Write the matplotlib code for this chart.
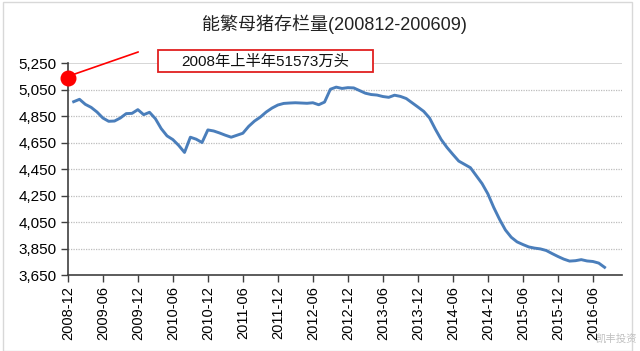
import matplotlib
matplotlib.use('Agg')
from matplotlib import pyplot as plt
from matplotlib.patches import Rectangle

plt.rcParams['font.family'] = ['Liberation Sans', 'Noto Sans CJK SC', 'DejaVu Sans']
plt.rcParams['font.size'] = 10

# monthly sow inventory (万头), 2009-01 .. 2016-08
sows = [
    4958, 4976, 4938, 4915, 4880, 4835, 4810, 4812, 4835, 4868, 4870, 4898,
    4860, 4878, 4830, 4755, 4700, 4672, 4628, 4575, 4690, 4675, 4650, 4745,
    4737, 4722, 4705, 4690, 4705, 4720, 4772, 4812, 4842, 4880, 4910, 4933,
    4945, 4948, 4950, 4948, 4946, 4950, 4935, 4955, 5052, 5068, 5058, 5064,
    5062, 5042, 5022, 5012, 5008, 4997, 4991, 5007, 4998, 4982, 4950, 4918,
    4885, 4835, 4750, 4672, 4612, 4560, 4510, 4485, 4460, 4400, 4340, 4262,
    4160, 4070, 3990, 3935, 3900, 3880, 3862, 3853, 3847, 3835, 3812, 3790,
    3770, 3755, 3758, 3766, 3756, 3752, 3740, 3708,
]
months = list(range(1, len(sows) + 1))  # 0 = 2008-12

tick_pos = list(range(0, 91, 6))
tick_labels = ['2008-12', '2009-06', '2009-12', '2010-06', '2010-12', '2011-06',
               '2011-12', '2012-06', '2012-12', '2013-06', '2013-12', '2014-06',
               '2014-12', '2015-06', '2015-12', '2016-06']
y_ticks = [3650, 3850, 4050, 4250, 4450, 4650, 4850, 5050, 5250]

mark_month = [0]
mark_value = [5135]
note = '2008年上半年51573万头'


def draw():
    fig = plt.figure(figsize=(6.4, 3.51), dpi=100)
    ax = fig.add_axes([0.106, 0.2165, 0.866, 0.604])

    for v in y_ticks[1:-1]:
        ax.axhline(v, color='#bdbdbd', lw=0.9, ls=(0, (1, 1)), zorder=1)
    ax.axhline(y_ticks[-1], color='#d0d0d0', lw=1.2, zorder=1)

    ax.plot(months, sows, color='#4a7ebb', lw=2.1, zorder=3)

    ax.scatter(mark_month, mark_value, s=110, color='#ff0000', zorder=5,
               clip_on=False)
    ax.annotate('', xy=(mark_month[0] + 0.4, mark_value[0] + 20),
                xytext=(49, 17), textcoords='offset points',
                arrowprops=dict(arrowstyle='-', color='#ff0000', lw=1.2,
                                shrinkA=0, shrinkB=0),
                annotation_clip=False)

    ax.set_xlim(0, 95)
    ax.set_ylim(3650, 5250)
    ax.set_yticks(y_ticks)
    ax.set_yticklabels(['{:,}'.format(v) for v in y_ticks], fontsize=11)
    ax.set_xticks(tick_pos)
    ax.set_xticklabels(tick_labels, rotation=90, fontsize=10.5)
    ax.tick_params(axis='both', direction='out', length=5, width=1,
                   color='#404040', pad=3)

    for s in ['top', 'right']:
        ax.spines[s].set_visible(False)
    for s in ['left', 'bottom']:
        ax.spines[s].set_color('#404040')
        ax.spines[s].set_linewidth(1.2)

    fig.text(0.523, 0.932, '能繁母猪存栏量(200812-200609)', ha='center',
             va='center', fontsize=13, color='#222222')

    fig.patches.append(Rectangle((158 / 640, 1 - 72 / 351), 215 / 640,
                                 22 / 351, transform=fig.transFigure,
                                 fill=True, facecolor='white',
                                 edgecolor='#e02020', lw=1.3, zorder=4))
    fig.text(265 / 640, 1 - 61.5 / 351, note, ha='center', va='center',
             fontsize=11, color='#111111', zorder=6)

    fig.patches.append(Rectangle((3 / 640, 0), 629 / 640, 0.995,
                                 transform=fig.transFigure, fill=False,
                                 edgecolor='#d8d8d8', lw=1.0))

    fig.text(0.995, 0.035, '凯丰投资', ha='right', va='center', fontsize=7.5,
             color='#c0c0c0')

    fig.savefig('out.png', dpi=100)


if __name__ == '__main__':
    draw()
